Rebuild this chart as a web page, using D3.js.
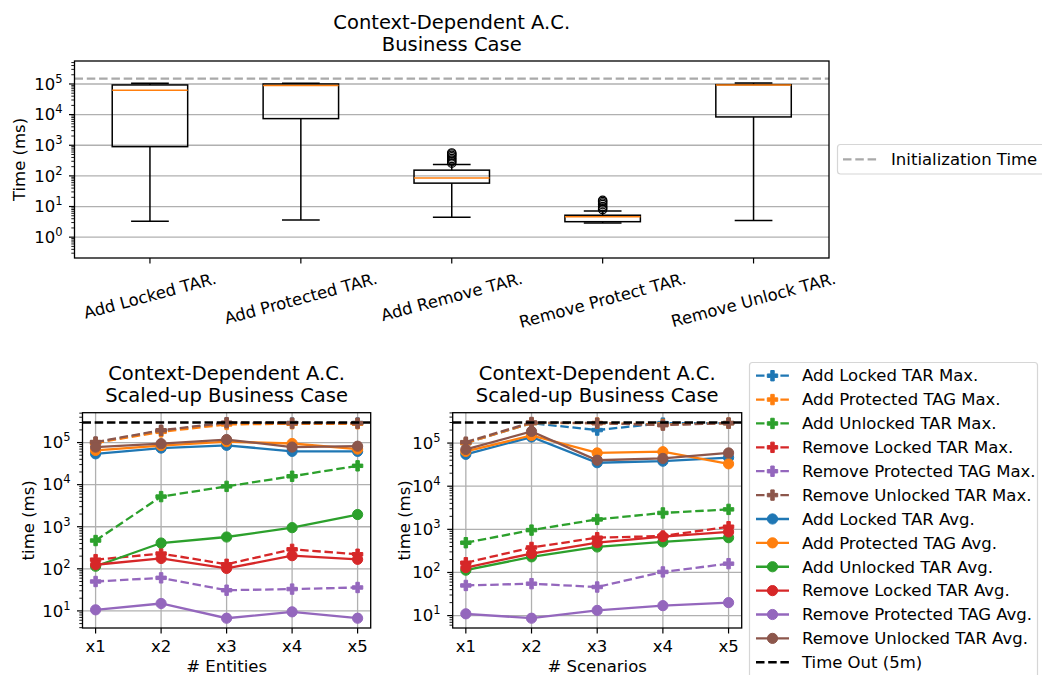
<!DOCTYPE html>
<html>
<head>
<meta charset="utf-8">
<script src="https://cdn.jsdelivr.net/npm/d3@7"></script>
<style>
  body { margin: 0; background: #fff; }
  svg text { font-family: "DejaVu Sans", sans-serif; fill: #000; }
</style>
</head>
<body>
<script>

// ---- top chart: box plot data (ms) ----
var boxLabels = ["Add Locked TAR.", "Add Protected TAR.", "Add Remove TAR.", "Remove Protect TAR.", "Remove Unlock TAR."];
var boxWhiskerLow = [3.3, 3.6, 4.5, 2.9, 3.5];
var boxQ1 = [900, 7400, 58, 3.2, 8400];
var boxMedian = [62000, 90000, 86, 4.6, 93000];
var boxQ3 = [93000, 100000, 154, 5.2, 95000];
var boxWhiskerHigh = [105000, 105000, 235, 7.2, 107000];
var boxFliers = [[], [], [260, 290, 330, 370, 420, 470, 520, 560], [8, 9, 10, 11.5, 13, 14.5, 16], []];
var initTime = 150000;

// ---- bottom charts: scaled-up data (ms) ----
var scaleLabels = ["x1", "x2", "x3", "x4", "x5"];
var seriesNames = ["Add Locked TAR Max.", "Add Protected TAG Max.", "Add Unlocked TAR Max.",
                   "Remove Locked TAR Max.", "Remove Protected TAG Max.", "Remove Unlocked TAR Max.",
                   "Add Locked TAR Avg.", "Add Protected TAG Avg.", "Add Unlocked TAR Avg.",
                   "Remove Locked TAR Avg.", "Remove Protected TAG Avg.", "Remove Unlocked TAR Avg."];
var timeOut = 300000;

// number of entities
var entAddLockedMax = [100000, 190000, 290000, 290000, 290000];
var entAddProtectedMax = [98000, 180000, 270000, 280000, 280000];
var entAddUnlockedMax = [470, 5200, 9100, 15800, 28000];
var entRemoveLockedMax = [165, 230, 128, 290, 222];
var entRemoveProtectedMax = [50, 61, 31, 33, 36];
var entRemoveUnlockedMax = [103000, 196000, 297000, 290000, 290000];
var entAddLockedAvg = [54000, 74000, 86000, 62000, 62000];
var entAddProtectedAvg = [65000, 85000, 105000, 95000, 70000];
var entAddUnlockedAvg = [115, 410, 570, 950, 1950];
var entRemoveLockedAvg = [125, 176, 102, 205, 168];
var entRemoveProtectedAvg = [10.6, 15, 6.7, 9.5, 6.7];
var entRemoveUnlockedAvg = [78000, 94000, 118000, 78000, 82000];

// number of scenarios
var scnAddLockedMax = [100000, 290000, 200000, 290000, 290000];
var scnAddProtectedMax = [100000, 290000, 290000, 270000, 290000];
var scnAddUnlockedMax = [490, 960, 1700, 2400, 2900];
var scnRemoveLockedMax = [168, 380, 640, 700, 1150];
var scnRemoveProtectedMax = [50, 55, 46, 103, 160];
var scnRemoveUnlockedMax = [105000, 300000, 290000, 260000, 290000];
var scnAddLockedAvg = [55000, 138000, 35000, 38000, 46000];
var scnAddProtectedAvg = [64000, 150000, 59000, 63000, 33000];
var scnAddUnlockedAvg = [113, 230, 390, 510, 640];
var scnRemoveLockedAvg = [130, 275, 490, 680, 870];
var scnRemoveProtectedAvg = [11, 8.7, 13.2, 17, 20];
var scnRemoveUnlockedAvg = [71000, 186000, 40000, 44000, 59000];

var entSeries = [entAddLockedMax, entAddProtectedMax, entAddUnlockedMax, entRemoveLockedMax,
                 entRemoveProtectedMax, entRemoveUnlockedMax, entAddLockedAvg, entAddProtectedAvg,
                 entAddUnlockedAvg, entRemoveLockedAvg, entRemoveProtectedAvg, entRemoveUnlockedAvg];
var scnSeries = [scnAddLockedMax, scnAddProtectedMax, scnAddUnlockedMax, scnRemoveLockedMax,
                 scnRemoveProtectedMax, scnRemoveUnlockedMax, scnAddLockedAvg, scnAddProtectedAvg,
                 scnAddUnlockedAvg, scnRemoveLockedAvg, scnRemoveProtectedAvg, scnRemoveUnlockedAvg];

// matplotlib default colours
var colors = ["#1f77b4", "#ff7f0e", "#2ca02c", "#d62728", "#9467bd", "#8c564b"];
var gridColor = "#b0b0b0";
var fs = "16.5px";

var svg = d3.select("body")
            .append("svg")
            .attr("width", 1042)
            .attr("height", 675);

// log tick label like 10^k
function powerLabel(g, x, y, k, anchor) {
  var t = g.append("text")
           .attr("x", x)
           .attr("y", y)
           .attr("text-anchor", anchor)
           .style("font-size", fs);
  t.append("tspan").text("10");
  t.append("tspan").attr("dy", -7).style("font-size", "11.5px").text(k);
}

// y axis with major + minor log ticks
function logAxis(g, yScale, x0, kMin, kMax) {
  var dom = yScale.domain();
  for (var k = Math.floor(Math.log10(dom[0])); k <= Math.ceil(Math.log10(dom[1])); k++) {
    for (var m = 2; m < 10; m++) {
      var v = m * Math.pow(10, k);
      if (v < dom[0] || v > dom[1]) continue;
      g.append("line")
       .attr("x1", x0 - 3.2).attr("x2", x0)
       .attr("y1", yScale(v)).attr("y2", yScale(v))
       .attr("stroke", "#000").attr("stroke-width", 0.9);
    }
  }
  for (var k = kMin; k <= kMax; k++) {
    var yy = yScale(Math.pow(10, k));
    g.append("line")
     .attr("x1", x0 - 5.5).attr("x2", x0)
     .attr("y1", yy).attr("y2", yy)
     .attr("stroke", "#000").attr("stroke-width", 1.2);
    powerLabel(g, x0 - 12, yy + 5.8, k, "end");
  }
}

function frame(g, l, r, t, b) {
  g.append("rect")
   .attr("x", l).attr("y", t)
   .attr("width", r - l).attr("height", b - t)
   .attr("fill", "none")
   .attr("stroke", "#000")
   .attr("stroke-width", 1.3);
}

// ================= top box plot =================
var topL = 74.5, topR = 829, topT = 61, topB = 258;

var xTop = d3.scaleLinear().domain([0.5, 5.5]).range([topL, topR]);
var yTop = d3.scaleLog().domain([Math.pow(10, -0.68), Math.pow(10, 5.75)]).range([topB, topT]);

var topG = svg.append("g");

// horizontal grid
d3.range(0, 6).forEach(function(k) {
  topG.append("line")
      .attr("x1", topL).attr("x2", topR)
      .attr("y1", yTop(Math.pow(10, k))).attr("y2", yTop(Math.pow(10, k)))
      .attr("stroke", gridColor).attr("stroke-width", 1.3);
});

// initialization time
topG.append("line")
    .attr("x1", topL).attr("x2", topR)
    .attr("y1", yTop(initTime)).attr("y2", yTop(initTime))
    .attr("stroke", "#a9a9a9").attr("stroke-width", 2.2)
    .attr("stroke-dasharray", "8.5,3.8");

var boxHalf = (xTop(1.25) - xTop(1));
boxLabels.forEach(function(label, i) {
  var cx = xTop(i + 1);
  // whiskers
  topG.append("line")
      .attr("x1", cx).attr("x2", cx)
      .attr("y1", yTop(boxQ1[i])).attr("y2", yTop(boxWhiskerLow[i]))
      .attr("stroke", "#000").attr("stroke-width", 1.5);
  topG.append("line")
      .attr("x1", cx).attr("x2", cx)
      .attr("y1", yTop(boxQ3[i])).attr("y2", yTop(boxWhiskerHigh[i]))
      .attr("stroke", "#000").attr("stroke-width", 1.5);
  // caps
  [boxWhiskerLow[i], boxWhiskerHigh[i]].forEach(function(v) {
    topG.append("line")
        .attr("x1", cx - boxHalf / 2).attr("x2", cx + boxHalf / 2)
        .attr("y1", yTop(v)).attr("y2", yTop(v))
        .attr("stroke", "#000").attr("stroke-width", 1.5);
  });
  // box
  topG.append("rect")
      .attr("x", cx - boxHalf)
      .attr("y", yTop(boxQ3[i]))
      .attr("width", boxHalf * 2)
      .attr("height", yTop(boxQ1[i]) - yTop(boxQ3[i]))
      .attr("fill", "none")
      .attr("stroke", "#000").attr("stroke-width", 1.5);
  // median
  topG.append("line")
      .attr("x1", cx - boxHalf).attr("x2", cx + boxHalf)
      .attr("y1", yTop(boxMedian[i])).attr("y2", yTop(boxMedian[i]))
      .attr("stroke", "#ff7f0e").attr("stroke-width", 1.5);
  // fliers
  topG.selectAll(null)
      .data(boxFliers[i])
      .enter()
      .append("circle")
      .attr("cx", cx)
      .attr("cy", d => yTop(d))
      .attr("r", 4.2)
      .attr("fill", "none")
      .attr("stroke", "#000").attr("stroke-width", 1.2);

  // tick + rotated label
  topG.append("line")
      .attr("x1", cx).attr("x2", cx)
      .attr("y1", topB).attr("y2", topB + 5.5)
      .attr("stroke", "#000").attr("stroke-width", 1.2);
  var t = topG.append("text")
              .attr("text-anchor", "middle")
              .attr("dominant-baseline", "central")
              .style("font-size", fs)
              .text(label);
  var w = t.node().getComputedTextLength();
  var a = 15 * Math.PI / 180;
  var yc = topB + 11 + (w * Math.sin(a) + 19 * Math.cos(a)) / 2;
  t.attr("transform", "translate(" + cx + "," + yc + ") rotate(-15)");
});

frame(topG, topL, topR, topT, topB);
logAxis(topG, yTop, topL, 0, 5);

topG.append("text")
    .attr("transform", "translate(25," + ((topT + topB) / 2) + ") rotate(-90)")
    .attr("text-anchor", "middle")
    .style("font-size", fs)
    .text("Time (ms)");

// title
topG.append("text").attr("x", (topL + topR) / 2).attr("y", 28.5)
    .attr("text-anchor", "middle").style("font-size", "19.5px")
    .text("Context-Dependent A.C.");
topG.append("text").attr("x", (topL + topR) / 2).attr("y", 50.5)
    .attr("text-anchor", "middle").style("font-size", "19.5px")
    .text("Business Case");

// legend of the top chart
topG.append("rect")
    .attr("x", 837.5).attr("y", 144.5)
    .attr("width", 230).attr("height", 29.5)
    .attr("rx", 3)
    .attr("fill", "#fff")
    .attr("stroke", "#d6d6d6").attr("stroke-width", 1.2);
topG.append("line")
    .attr("x1", 843).attr("x2", 877).attr("y1", 159.3).attr("y2", 159.3)
    .attr("stroke", "#a9a9a9").attr("stroke-width", 2.2)
    .attr("stroke-dasharray", "8.5,3.8");
topG.append("text")
    .attr("x", 891).attr("y", 159.3).attr("dy", "0.35em")
    .style("font-size", fs)
    .text("Initialization Time");

// ================= bottom panels =================
var crossSym = d3.symbol().type(d3.symbolCross).size(60);
var circleSym = d3.symbol().type(d3.symbolCircle).size(82);

function drawPanel(l, r, series, xLabel, yLabelX) {
  var t = 412.7, b = 628;
  var g = svg.append("g");

  // matplotlib style 5% margins in log space
  var allVals = d3.merge(series).concat([timeOut]);
  var lo = Math.log10(d3.min(allVals)), hi = Math.log10(d3.max(allVals));
  var pad = (hi - lo) * 0.05;
  var y = d3.scaleLog().domain([Math.pow(10, lo - pad), Math.pow(10, hi + pad)]).range([b, t]);
  var x = d3.scaleLinear().domain([0.8, 5.2]).range([l, r]);

  // grid
  d3.range(1, 6).forEach(function(k) {
    g.append("line")
     .attr("x1", l).attr("x2", r)
     .attr("y1", y(Math.pow(10, k))).attr("y2", y(Math.pow(10, k)))
     .attr("stroke", gridColor).attr("stroke-width", 1.3);
  });
  scaleLabels.forEach(function(s, i) {
    g.append("line")
     .attr("x1", x(i + 1)).attr("x2", x(i + 1))
     .attr("y1", t).attr("y2", b)
     .attr("stroke", gridColor).attr("stroke-width", 1.3);
  });

  var line = d3.line()
               .x(function(d, i) { return x(i + 1); })
               .y(function(d) { return y(d); });

  series.forEach(function(vals, s) {
    var c = colors[s % 6];
    var isMax = s < 6;
    g.append("path")
     .attr("d", line(vals))
     .attr("fill", "none")
     .attr("stroke", c)
     .attr("stroke-width", 2.3)
     .attr("stroke-dasharray", isMax ? "8.5,3.7" : null);
    g.selectAll(null)
     .data(vals)
     .enter()
     .append("path")
     .attr("d", isMax ? crossSym : circleSym)
     .attr("transform", (d, i) => "translate(" + x(i + 1) + "," + y(d) + ")")
     .attr("fill", c)
     .attr("stroke", c)
     .attr("stroke-width", 1);
  });

  // time out
  g.append("line")
   .attr("x1", l).attr("x2", r)
   .attr("y1", y(timeOut)).attr("y2", y(timeOut))
   .attr("stroke", "#000").attr("stroke-width", 2.3)
   .attr("stroke-dasharray", "8.5,3.7");

  frame(g, l, r, t, b);
  logAxis(g, y, l, 1, 5);

  scaleLabels.forEach(function(s, i) {
    g.append("line")
     .attr("x1", x(i + 1)).attr("x2", x(i + 1))
     .attr("y1", b).attr("y2", b + 5.5)
     .attr("stroke", "#000").attr("stroke-width", 1.2);
    g.append("text")
     .attr("x", x(i + 1)).attr("y", 652)
     .attr("text-anchor", "middle")
     .style("font-size", fs)
     .text(s);
  });

  g.append("text")
   .attr("x", (l + r) / 2).attr("y", 671.5)
   .attr("text-anchor", "middle")
   .style("font-size", fs)
   .text(xLabel);

  g.append("text")
   .attr("transform", "translate(" + yLabelX + "," + ((t + b) / 2) + ") rotate(-90)")
   .attr("text-anchor", "middle")
   .attr("dy", "0.35em")
   .style("font-size", fs)
   .text("time (ms)");

  g.append("text").attr("x", (l + r) / 2).attr("y", 380)
   .attr("text-anchor", "middle").style("font-size", "19.5px")
   .text("Context-Dependent A.C.");
  g.append("text").attr("x", (l + r) / 2).attr("y", 402)
   .attr("text-anchor", "middle").style("font-size", "19.5px")
   .text("Scaled-up Business Case");
}

drawPanel(82.5, 370.7, entSeries, "# Entities", 28.5);
drawPanel(452.7, 741.7, scnSeries, "# Scenarios", 404);

// ================= bottom legend =================
var leg = svg.append("g");
leg.append("rect")
   .attr("x", 749.5).attr("y", 362.5)
   .attr("width", 288).attr("height", 330)
   .attr("rx", 3)
   .attr("fill", "#fff")
   .attr("stroke", "#d6d6d6").attr("stroke-width", 1.2);

var legNames = seriesNames.concat(["Time Out (5m)"]);
legNames.forEach(function(name, i) {
  var yy = 375.7 + i * 23.88;
  var c = i < 12 ? colors[i % 6] : "#000";
  var dashed = i < 6 || i == 12;
  leg.append("line")
     .attr("x1", 756).attr("x2", 789)
     .attr("y1", yy).attr("y2", yy)
     .attr("stroke", c).attr("stroke-width", 2.3)
     .attr("stroke-dasharray", dashed ? "8.5,3.7" : null);
  if (i < 12) {
    leg.append("path")
       .attr("d", i < 6 ? crossSym : circleSym)
       .attr("transform", "translate(772.5," + yy + ")")
       .attr("fill", c).attr("stroke", c).attr("stroke-width", 1);
  }
  leg.append("text")
     .attr("x", 802).attr("y", yy).attr("dy", "0.35em")
     .style("font-size", fs)
     .text(name);
});

</script>
</body>
</html>
